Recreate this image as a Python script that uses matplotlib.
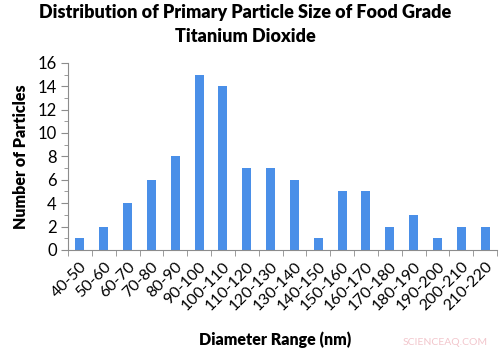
import numpy as np
import matplotlib
matplotlib.use("Agg")
import matplotlib.pyplot as plt
from matplotlib.ticker import MultipleLocator

# data
ranges = ["40-50", "50-60", "60-70", "70-80", "80-90", "90-100", "100-110",
          "110-120", "120-130", "130-140", "140-150", "150-160", "160-170",
          "170-180", "180-190", "190-200", "200-210", "210-220"]
counts = [1, 2, 4, 6, 8, 15, 14, 7, 7, 6, 1, 5, 5, 2, 3, 1, 2, 2]

plt.rcParams['font.family'] = ['Lato', 'DejaVu Sans']

fig = plt.figure(figsize=(5.0, 3.55), dpi=100)
ax = fig.add_axes([0.136, 0.296, 0.858, 0.527])

x = np.arange(len(ranges))
ax.bar(x, counts, width=0.38, color='#4a8fe8')

ax.set_xlim(-0.5, len(ranges) - 0.5)
ax.set_ylim(0, 16)
ax.yaxis.set_major_locator(MultipleLocator(2))
ax.yaxis.set_minor_locator(MultipleLocator(1))

# category labels in the middle, tick marks on boundaries
ax.set_xticks(x)
ax.set_xticklabels(ranges, rotation=45, ha='right', rotation_mode='anchor', fontsize=11.5)
ax.set_xticks(np.arange(-0.5, len(ranges)), minor=True)
ax.tick_params(axis='x', which='major', length=0, pad=7)
ax.tick_params(axis='x', which='minor', length=4, color='#8c8c8c', direction='out')
ax.tick_params(axis='y', which='major', length=5, color='#8c8c8c', labelsize=12, pad=3)
ax.tick_params(axis='y', which='minor', length=3, color='#8c8c8c')

for side in ['top', 'right']:
    ax.spines[side].set_visible(False)
for side in ['left', 'bottom']:
    ax.spines[side].set_color('#8c8c8c')

fig.text(0.49, 0.99, "Distribution of Primary Particle Size of Food Grade\nTitanium Dioxide",
         ha='center', va='top', fontsize=13, fontweight='heavy', linespacing=1.5)
ax.set_ylabel("Number of Particles", fontsize=11.5, fontweight='heavy', labelpad=6)
fig.text(0.55, 0.02, "Diameter Range (nm)", ha='center', va='bottom',
         fontsize=11.5, fontweight='heavy')
fig.text(0.89, 0.022, "SCIENCEAQ.COM", ha='center', va='bottom',
         fontsize=7.5, color='#f2c6cc')

fig.savefig("out.png", dpi=100)
